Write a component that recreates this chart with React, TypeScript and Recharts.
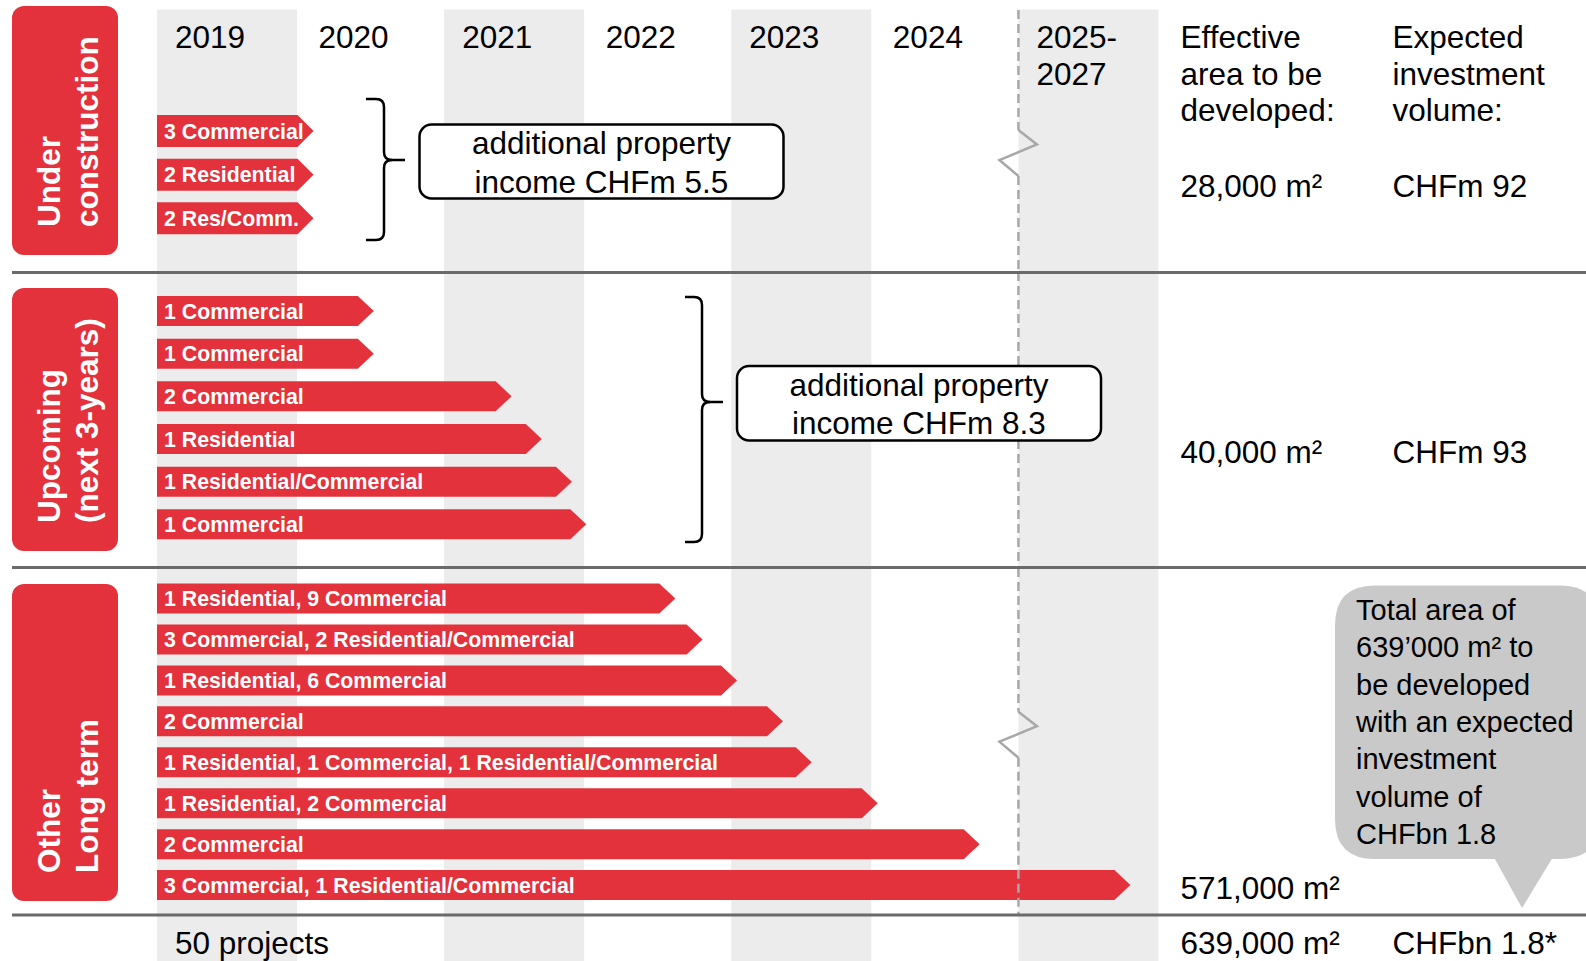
import React from 'react';
import { BarChart, Bar, XAxis, YAxis, ReferenceArea, ReferenceLine } from 'recharts';

const FONT = '"Liberation Sans", Arial, Helvetica, sans-serif';
const RED = '#e3323b';
const BAND = '#ececec';
const DASH = '#a8a8a8';
const RULE = '#6a6a6a';
const CALLOUT = '#c9c9c9';

// Timeline columns (one unit per column, the last column spans 2025-2027)
const columnLabels = ['2019', '2020', '2021', '2022', '2023', '2024', '2025-\n2027'];
const columnTicks = [0, 1, 2, 3, 4, 5, 6];
const shadedColumns = [0, 2, 4, 6];
const breakColumn = 6;

// Section 1: under construction (end of arrow, in timeline columns)
const underConstructionLabels = ['3 Commercial', '2 Residential', '2 Res/Comm.'];
const underConstructionEnd = [1.09, 1.09, 1.09];

// Section 2: upcoming (next 3 years)
const upcomingLabels = [
  '1 Commercial',
  '1 Commercial',
  '2 Commercial',
  '1 Residential',
  '1 Residential/Commercial',
  '1 Commercial',
];
const upcomingEnd = [1.51, 1.51, 2.47, 2.68, 2.89, 2.99];

// Section 3: other long term
const longTermLabels = [
  '1 Residential, 9 Commercial',
  '3 Commercial, 2 Residential/Commercial',
  '1 Residential, 6 Commercial',
  '2 Commercial',
  '1 Residential, 1 Commercial, 1 Residential/Commercial',
  '1 Residential, 2 Commercial',
  '2 Commercial',
  '3 Commercial, 1 Residential/Commercial',
];
const longTermEnd = [3.61, 3.8, 4.04, 4.36, 4.56, 5.02, 5.73, 6.78];

const sectionTitles = [
  ['Under', 'construction'],
  ['Upcoming', '(next 3-years)'],
  ['Other', 'Long term'],
];
const areaHeader = ['Effective', 'area to be', 'developed:'];
const investHeader = ['Expected', 'investment', 'volume:'];
const sectionAreas = ['28,000 m²', '40,000 m²', '571,000 m²'];
const sectionInvest = ['CHFm 92', 'CHFm 93'];
const incomeNotes = [
  ['additional property', 'income CHFm 5.5'],
  ['additional property', 'income CHFm 8.3'],
];
const totalProjects = '50 projects';
const totalArea = '639,000 m²';
const totalInvest = 'CHFbn 1.8*';
const calloutLines = [
  'Total area of',
  '639’000 m² to',
  'be developed',
  'with an expected',
  'investment',
  'volume of',
  'CHFbn 1.8',
];

const toRows = (labels: string[], ends: number[]) =>
  labels.map((project, i) => ({ project, end: ends[i] }));

const W = 1586;
const H = 961;
const PLOT_LEFT = 157;
const PLOT_RIGHT = 424;

function YearTick(props: any) {
  const { x, payload } = props;
  const lines = String(columnLabels[payload.value] ?? '').split('\n');
  return (
    <g>
      {lines.map((l, i) => (
        <text key={i} x={x + 18} y={48 + i * 36.5} fontFamily={FONT} fontSize={31.5} fill="#000">
          {l}
        </text>
      ))}
    </g>
  );
}

function Arrow(props: any) {
  const { x, y, width, height } = props;
  const label = props.payload?.project ?? props.project;
  const tip = 16;
  const bodyEnd = x + width - tip;
  const cy = y + height / 2;
  return (
    <g>
      <path
        d={`M${x},${y} H${bodyEnd} L${x + width},${cy} L${bodyEnd},${y + height} H${x} Z`}
        fill={RED}
      />
      <text x={x + 7} y={cy + 7.5} fill="#fff" fontFamily={FONT} fontWeight="bold" fontSize={21.3}>
        {label}
      </text>
    </g>
  );
}

function BreakLine({ x, y0, y1, zig }: { x: number; y0: number; y1: number; zig: number | null }) {
  const common = { stroke: DASH, strokeWidth: 2.5, fill: 'none' };
  if (zig == null) {
    return <line x1={x} x2={x} y1={y0} y2={y1} {...common} strokeDasharray="9 5" />;
  }
  const zEnd = zig + 46;
  return (
    <g>
      <line x1={x} x2={x} y1={y0} y2={zig} {...common} strokeDasharray="9 5" />
      <polyline
        points={`${x},${zig} ${x + 18.5},${zig + 14.5} ${x - 19},${zig + 30} ${x},${zEnd}`}
        {...common}
      />
      <line x1={x} x2={x} y1={zEnd} y2={y1} {...common} strokeDasharray="9 5" />
    </g>
  );
}

type SectionProps = {
  rows: { project: string; end: number }[];
  top: number;
  height: number;
  mTop: number;
  mBottom: number;
  barSize: number;
  bandTop: number;
  dashTop: number;
  dashBottom: number;
  zig: number | null;
  showYears: boolean;
};

function Section(p: SectionProps) {
  return (
    <div style={{ position: 'absolute', left: 0, top: p.top, width: W, height: p.height }}>
      <BarChart
        width={W}
        height={p.height}
        data={p.rows}
        layout="vertical"
        margin={{ top: p.mTop, bottom: p.mBottom, left: PLOT_LEFT, right: PLOT_RIGHT }}
        barCategoryGap={0}
      >
        <XAxis
          type="number"
          domain={[0, 7]}
          allowDataOverflow
          ticks={columnTicks}
          interval={0}
          orientation="top"
          hide={!p.showYears}
          axisLine={false}
          tickLine={false}
          height={30}
          tick={<YearTick />}
        />
        <YAxis type="category" dataKey="project" hide />
        {shadedColumns.map((c) => (
          <ReferenceArea
            key={c}
            x1={c}
            x2={c + 0.975}
            fill={BAND}
            fillOpacity={1}
            stroke="none"
            shape={(s: any) => (
              <rect x={s.x} y={p.bandTop} width={s.width} height={p.height - p.bandTop} fill={BAND} />
            )}
          />
        ))}
        <Bar
          dataKey="end"
          barSize={p.barSize}
          isAnimationActive={false}
          shape={(s: any) => <Arrow {...s} />}
        />
        <ReferenceLine
          x={breakColumn}
          shape={(s: any) => <BreakLine x={s.x1} y0={p.dashTop} y1={p.dashBottom} zig={p.zig} />}
        />
      </BarChart>
    </div>
  );
}

function Brace({ left, vx, tip, top, mid, bottom }: any) {
  const r = 8;
  const d1 = `M${left},${top} H${vx - r} Q${vx},${top} ${vx},${top + r} V${mid - r} Q${vx},${mid} ${vx + r},${mid} H${tip}`;
  const d2 = `M${left},${bottom} H${vx - r} Q${vx},${bottom} ${vx},${bottom - r} V${mid + r} Q${vx},${mid} ${vx + r},${mid}`;
  return (
    <g fill="none" stroke="#000" strokeWidth={2.5}>
      <path d={d1} />
      <path d={d2} />
    </g>
  );
}

function Overlay() {
  const sideBoxes = [
    { y: 6, h: 249 },
    { y: 288, h: 263 },
    { y: 584, h: 317 },
  ];
  const braces = [
    { left: 366, vx: 384, tip: 405, top: 99, mid: 160, bottom: 240 },
    { left: 685, vx: 702, tip: 723, top: 297, mid: 402, bottom: 542 },
  ];
  const noteBoxes = [
    { x: 419.5, y: 124.5, w: 364, h: 74, b: [153.5, 192.5] },
    { x: 737, y: 366, w: 364, h: 74.5, b: [396, 433.5] },
  ];
  const areaBaselines = [196.5, 462.5, 898.5];
  const col1 = 1180.5;
  const col2 = 1392.5;
  const txt = { fontFamily: FONT, fontSize: 31.5, fill: '#000' } as any;
  return (
    <svg
      width={W}
      height={H}
      style={{ position: 'absolute', left: 0, top: 0, pointerEvents: 'none' }}
    >
      {[272.5, 567.5, 915].map((y) => (
        <line key={y} x1={12} x2={W} y1={y} y2={y} stroke={RULE} strokeWidth={3} />
      ))}
      {sideBoxes.map((b, i) => (
        <g key={i}>
          <rect x={12} y={b.y} width={106} height={b.h} rx={12} fill={RED} />
          {sectionTitles[i].map((t, j) => (
            <text
              key={j}
              transform={`translate(${60 + j * 38},${b.y + b.h - 28}) rotate(-90)`}
              fontFamily={FONT}
              fontWeight="bold"
              fontSize={31.5}
              fill="#fff"
            >
              {t}
            </text>
          ))}
        </g>
      ))}
      {braces.map((b, i) => (
        <Brace key={i} {...b} />
      ))}
      {noteBoxes.map((b, i) => (
        <g key={i}>
          <rect x={b.x} y={b.y} width={b.w} height={b.h} rx={12} fill="#fff" stroke="#000" strokeWidth={2.5} />
          {incomeNotes[i].map((t, j) => (
            <text key={j} x={b.x + b.w / 2} y={b.b[j]} textAnchor="middle" {...txt}>
              {t}
            </text>
          ))}
        </g>
      ))}
      {areaHeader.map((t, i) => (
        <text key={'a' + i} x={col1} y={48 + i * 36.7} {...txt}>
          {t}
        </text>
      ))}
      {investHeader.map((t, i) => (
        <text key={'v' + i} x={col2} y={48 + i * 36.7} {...txt}>
          {t}
        </text>
      ))}
      {sectionAreas.map((t, i) => (
        <text key={'sa' + i} x={col1} y={areaBaselines[i]} {...txt}>
          {t}
        </text>
      ))}
      {sectionInvest.map((t, i) => (
        <text key={'si' + i} x={col2} y={areaBaselines[i]} {...txt}>
          {t}
        </text>
      ))}
      <path d="M1335,625.5 Q1335,585.5 1375,585.5 H1560 Q1600,585.5 1600,625.5 V819 Q1600,859 1560,859 H1375 Q1335,859 1335,819 Z" fill={CALLOUT} />
      <polygon points="1491,852 1556,852 1522,908" fill={CALLOUT} />
      {calloutLines.map((t, i) => (
        <text key={'c' + i} x={1356} y={620 + i * 37.3} fontFamily={FONT} fontSize={29} fill="#000">
          {t}
        </text>
      ))}
      <text x={175} y={954} {...txt}>
        {totalProjects}
      </text>
      <text x={col1} y={954} {...txt}>
        {totalArea}
      </text>
      <text x={col2} y={954} {...txt}>
        {totalInvest}
      </text>
    </svg>
  );
}

export default function App() {
  return (
    <div
      style={{
        position: 'absolute',
        left: 0,
        top: 0,
        width: W,
        height: H,
        background: '#fff',
        overflow: 'hidden',
        fontFamily: FONT,
      }}
    >
      <Section
        rows={toRows(underConstructionLabels, underConstructionEnd)}
        top={0}
        height={272}
        mTop={79}
        mBottom={32}
        barSize={32}
        bandTop={9.5}
        dashTop={10}
        dashBottom={272}
        zig={130}
        showYears
      />
      <Section
        rows={toRows(upcomingLabels, upcomingEnd)}
        top={272}
        height={296}
        mTop={18}
        mBottom={22}
        barSize={30}
        bandTop={0}
        dashTop={0}
        dashBottom={296}
        zig={null}
        showYears={false}
      />
      <Section
        rows={toRows(longTermLabels, longTermEnd)}
        top={568}
        height={393}
        mTop={10.5}
        mBottom={55}
        barSize={30}
        bandTop={0}
        dashTop={0}
        dashBottom={347}
        zig={143.7}
        showYears={false}
      />
      <Overlay />
    </div>
  );
}
